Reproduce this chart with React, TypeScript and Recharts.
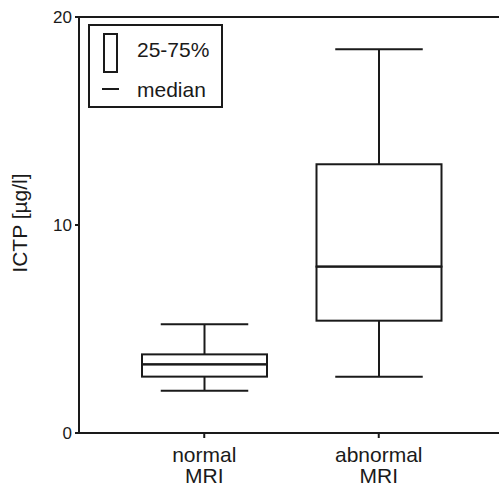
import {
  ComposedChart,
  Bar,
  XAxis,
  YAxis,
  Label,
  Legend,
  ReferenceLine,
} from "recharts";

const categories = ["normal\nMRI", "abnormal\nMRI"];
const whiskerLow = [2.03, 2.71];
const q1 = [2.71, 5.4];
const median = [3.3, 8.0];
const q3 = [3.78, 12.92];
const whiskerHigh = [5.23, 18.45];
const yTicks = [0, 10, 20];
const legendItems = ["25-75%", "median"];

const data = categories.map((name, i) => ({
  name,
  base: whiskerLow[i],
  lowWhisker: q1[i] - whiskerLow[i],
  lowBox: median[i] - q1[i],
  highBox: q3[i] - median[i],
  highWhisker: whiskerHigh[i] - q3[i],
}));

const INK = "#1a1a1a";
const FONT = "'Liberation Sans', Arial, Helvetica, sans-serif";

// whisker segment with cap at the bottom (lower) or top (upper)
const Whisker = ({ x, y, width, height, capAtTop }: any) => {
  const cx = x + width / 2;
  const half = width * 0.35;
  const capY = capAtTop ? y : y + height;
  return (
    <g>
      <line x1={cx} x2={cx} y1={y} y2={y + height} stroke={INK} strokeWidth={2} />
      <line x1={cx - half} x2={cx + half} y1={capY} y2={capY} stroke={INK} strokeWidth={2} />
    </g>
  );
};

const BoxPart = ({ x, y, width, height }: any) => (
  <rect x={x} y={y} width={width} height={height} fill="none" stroke={INK} strokeWidth={2} />
);

const CategoryTick = ({ x, y, payload }: any) => {
  const lines = String(payload.value).split("\n");
  return (
    <text x={x} y={y} textAnchor="middle" fontSize={21} fill={INK} fontFamily={FONT}>
      {lines.map((l, i) => (
        <tspan key={i} x={x} dy={i === 0 ? 22 : 21}>
          {l}
        </tspan>
      ))}
    </text>
  );
};

const YLabel = ({ viewBox, value }: any) => {
  const cx = 19;
  const cy = viewBox ? viewBox.y + viewBox.height / 2 - 2 : 223;
  return (
    <text
      x={cx}
      y={cy}
      transform={`rotate(-90, ${cx}, ${cy})`}
      textAnchor="middle"
      dominantBaseline="central"
      fontSize={21}
      fill={INK}
      fontFamily={FONT}
    >
      {value}
    </text>
  );
};

const LegendBox = () => (
  <svg width={135} height={84} style={{ display: "block" }}>
    <rect x={1} y={1} width={133} height={82} fill="#fff" stroke={INK} strokeWidth={2} />
    <rect x={16} y={10} width={13} height={38} fill="none" stroke={INK} strokeWidth={2} />
    <text x={49} y={33} fontSize={21} fill={INK} fontFamily={FONT}>
      {legendItems[0]}
    </text>
    <line x1={14} x2={31} y1={65} y2={65} stroke={INK} strokeWidth={2} />
    <text x={49} y={73} fontSize={21} fill={INK} fontFamily={FONT}>
      {legendItems[1]}
    </text>
  </svg>
);

export default function App() {
  return (
    <div style={{ position: "absolute", left: 0, top: 0, background: "#fff" }}>
      <ComposedChart
        width={499}
        height={487}
        data={data}
        margin={{ top: 17, right: 0, bottom: 0, left: 0 }}
        barSize={125}
      >
        <XAxis
          dataKey="name"
          interval={0}
          padding={{ left: 38, right: 33 }}
          height={54}
          tickSize={5}
          axisLine={{ stroke: INK, strokeWidth: 2 }}
          tickLine={{ stroke: INK, strokeWidth: 2 }}
          tick={<CategoryTick />}
        />
        <YAxis
          type="number"
          domain={[0, 20]}
          ticks={yTicks}
          width={79}
          tickSize={4}
          tickMargin={3}
          axisLine={{ stroke: INK, strokeWidth: 2 }}
          tickLine={{ stroke: INK, strokeWidth: 2 }}
          tick={{ fontSize: 17, fill: INK, fontFamily: FONT }}
        >
          <Label value="ICTP [µg/l]" content={<YLabel />} />
        </YAxis>
        <ReferenceLine y={20} stroke={INK} strokeWidth={2} />
        <Legend
          layout="horizontal"
          verticalAlign="middle"
          align="center"
          content={<LegendBox />}
          wrapperStyle={{ position: "absolute", left: 88, top: 24, width: 135, height: 84 }}
        />
        <Bar dataKey="base" stackId="a" fill="transparent" isAnimationActive={false} />
        <Bar
          dataKey="lowWhisker"
          stackId="a"
          isAnimationActive={false}
          shape={(p: any) => <Whisker {...p} capAtTop={false} />}
        />
        <Bar dataKey="lowBox" stackId="a" isAnimationActive={false} shape={(p: any) => <BoxPart {...p} />} />
        <Bar dataKey="highBox" stackId="a" isAnimationActive={false} shape={(p: any) => <BoxPart {...p} />} />
        <Bar
          dataKey="highWhisker"
          stackId="a"
          isAnimationActive={false}
          shape={(p: any) => <Whisker {...p} capAtTop />}
        />
      </ComposedChart>
    </div>
  );
}
